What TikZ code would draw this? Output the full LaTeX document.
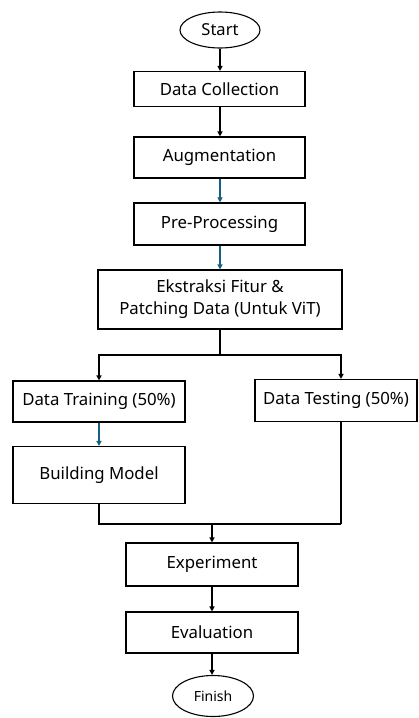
\documentclass[tikz,border=0pt]{standalone}
\usepackage{fontspec}
\setmainfont{Noto Sans}
\usetikzlibrary{arrows.meta,shapes.geometric}
\definecolor{arrblue}{HTML}{156082}
\tikzset{
  box/.style={draw=black, line width=1.1pt, inner sep=0pt, align=center,
    font=\fontsize{16.8}{22}\selectfont},
  oval/.style={ellipse, draw=black, line width=1.1pt, inner sep=0pt},
  conn/.style={line width=1.2pt, draw=black},
  arr/.style={conn, -{Triangle[length=5pt,width=5pt]}},
  barr/.style={arr, draw=arrblue, -{Triangle[length=5pt,width=5pt,fill=arrblue]}}
}
\begin{document}
\begin{tikzpicture}[x=1pt,y=-1pt]
\useasboundingbox (0,0) rectangle (419,718);
\fill[white] (0,0) rectangle (419,718);

\node[oval, minimum width=80pt, minimum height=36pt, font=\fontsize{16.5}{20}\selectfont] (start) at (220,30) {Start};
\node[box, minimum width=171pt, minimum height=35pt] (dc) at (219.5,89) {Data Collection};
\node[box, minimum width=171pt, minimum height=41pt] (aug) at (219.5,157.5) {Augmentation};
\node[box, minimum width=171pt, minimum height=42pt] (pre) at (219.5,224) {Pre-Processing};
\node[box, minimum width=244pt, minimum height=59pt] (ext) at (220,299.5) {Ekstraksi Fitur \&\\Patching Data (Untuk ViT)};
\node[box, minimum width=172pt, minimum height=41pt] (train) at (99,401.5) {Data Training (50\%)};
\node[box, minimum width=162pt, minimum height=42pt] (test) at (336,400.5) {Data Testing (50\%)};
\node[box, minimum width=172pt, minimum height=57pt] (build) at (99,475) {Building Model};
\node[box, minimum width=172pt, minimum height=43pt] (exp) at (212,564.5) {Experiment};
\node[box, minimum width=172pt, minimum height=41pt] (eval) at (212,632.5) {Evaluation};
\node[oval, minimum width=81pt, minimum height=41pt, font=\fontsize{14}{17}\selectfont] (finish) at (213,696) {Finish};

\coordinate (sp) at (220,355);
\coordinate (tr) at (341,355);
\coordinate (ml) at (99,524);
\coordinate (mr) at (341,524);
\coordinate (mm) at (212,524);

\draw[arr] (start.south) -- (start.south |- dc.north);
\draw[arr] (dc.south -| start.south) -- (start.south |- aug.north);
\draw[barr] (aug.south -| start.south) -- (start.south |- pre.north);
\draw[barr] (pre.south -| start.south) -- (start.south |- ext.north);
\draw[conn] (ext.south) -- (sp);
\draw[arr] (sp) -| (train.north);
\draw[arr] (sp) -- (tr) -- (test.north -| tr);
\draw[barr] (train.south) -- (build.north);
\draw[conn] (build.south) -- (ml) -- (mr);
\draw[conn] (test.south -| tr) -- (mr);
\draw[arr] (mm) -- (exp.north);
\draw[arr] (exp.south) -- (eval.north);
\draw[arr] (eval.south) -- (eval.south |- finish.north);
\end{tikzpicture}
\end{document}
